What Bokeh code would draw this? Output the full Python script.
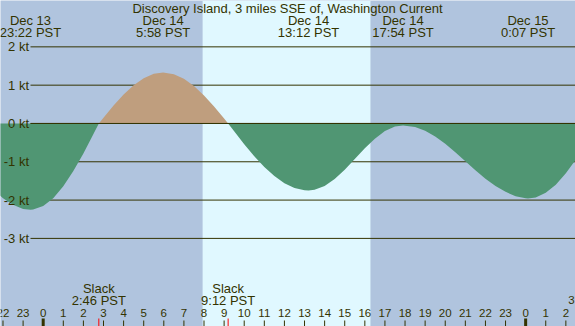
from bokeh.plotting import figure
from bokeh.models import Range1d
from bokeh.embed import file_html
from bokeh.resources import INLINE
from bokeh.core.properties import value
import numpy as np

# ---- data (hours relative to Dec 14 00:00 PST, current speed in knots) ----
hours = [-2.2, -2.0, -1.5, -1.0, -0.633, -0.5, 0, 0.5, 1, 1.5, 2, 2.5, 2.767,
         3, 3.5, 4, 4.5, 5, 5.5, 5.967, 6.5, 7, 7.5, 8, 8.5, 9, 9.2,
         9.5, 10, 10.5, 11, 11.5, 12, 12.5, 13, 13.2, 13.5, 14, 14.5, 15,
         15.5, 16, 16.5, 17, 17.5, 17.9, 18.5, 19, 19.5, 20, 20.5, 21, 21.5,
         22, 22.5, 23, 23.5, 24, 24.117, 24.5, 25, 25.5, 26, 26.5]
speed = [-1.86, -1.95, -2.12, -2.23, -2.25, -2.246, -2.154, -1.949, -1.639, -1.244, -0.782, -0.277, 0.0,
         0.152, 0.468, 0.757, 1.000, 1.183, 1.295, 1.33, 1.286, 1.166, 0.978, 0.733, 0.444, 0.129, 0.0,
         -0.206, -0.541, -0.855, -1.136, -1.374, -1.559, -1.684, -1.745, -1.75, -1.733, -1.631, -1.449, -1.206,
         -0.928, -0.648, -0.396, -0.199, -0.080, -0.05, -0.093, -0.192, -0.341, -0.531, -0.751, -0.986, -1.221,
         -1.441, -1.633, -1.785, -1.90, -1.955, -1.96, -1.93, -1.81, -1.60, -1.30, -0.94]

extreme_hours = [-0.633, 5.967, 13.2, 17.9, 24.117]
extreme_dates = ["Dec 13", "Dec 14", "Dec 14", "Dec 14", "Dec 15"]
extreme_times = ["23:22 PST", "5:58 PST", "13:12 PST", "17:54 PST", "0:07 PST"]

slack_hours = [2.767, 9.2]
slack_times = ["2:46 PST", "9:12 PST"]

sunrise, sunset = 7.93, 16.28

kt_levels = [2, 1, 0, -1, -2, -3]
kt_labels = ["2 kt", "1 kt", "0 kt", "-1 kt", "-2 kt", "-3 kt"]

tick_hours = list(range(-2, 27))
tick_labels = [str(h % 24) for h in tick_hours]

title = "Discovery Island, 3 miles SSE of, Washington Current"

# ---- layout / style ----
W, H = 575, 326
XMIN, XMAX = -2.124, 26.48
YMIN, YMAX = -5.30, 3.21
FONT = value("Liberation Sans")
FS = "13px"
FS_H = "11.5px"
TXT = "#333300"
NIGHT = "#b0c4de"
DAY = "#e0f8ff"
FLOOD = "#bf9e7e"
EBB = "#509673"


def xpx(px):
    return XMIN + px * (XMAX - XMIN) / W


def ypx(py):
    return YMAX - py * (YMAX - YMIN) / H


p = figure(width=W, height=H, x_range=Range1d(XMIN, XMAX), y_range=Range1d(YMIN, YMAX),
           output_backend="svg", toolbar_location=None, min_border=0,
           x_axis_location=None, y_axis_location=None,
           background_fill_color=NIGHT, border_fill_color=NIGHT)
p.grid.visible = False
p.outline_line_color = None

# daylight band
p.quad(left=[sunrise], right=[sunset], bottom=[YMIN], top=[YMAX], fill_color=DAY, line_color=None)

# grid lines
x_line0 = xpx(30)
p.segment(x0=[x_line0] * len(kt_levels), y0=kt_levels, x1=[XMAX] * len(kt_levels), y1=kt_levels,
          line_color=TXT, line_width=1)

# current fills
h = np.array(hours)
s = np.array(speed)
p.varea(x=h, y1=np.zeros_like(s), y2=np.maximum(s, 0), fill_color=FLOOD)
p.varea(x=h, y1=np.zeros_like(s), y2=np.minimum(s, 0), fill_color=EBB)

# zero line on top
p.segment(x0=[x_line0], y0=[0], x1=[XMAX], y1=[0], line_color=TXT, line_width=1)

# y labels
p.text(x=[xpx(28.5)] * len(kt_levels), y=kt_levels, text=kt_labels, text_font=FONT,
       text_font_size=FS, text_align="right", text_baseline="middle", text_color=TXT)

# title
p.text(x=[xpx(287)], y=[ypx(7.5)], text=[title], text_font=FONT, text_font_size=FS,
       text_align="center", text_baseline="middle", text_color=TXT)

# extreme labels
p.text(x=extreme_hours, y=[ypx(19.5)] * len(extreme_hours), text=extreme_dates, text_font=FONT,
       text_font_size=FS, text_align="center", text_baseline="middle", text_color=TXT)
p.text(x=extreme_hours, y=[ypx(32)] * len(extreme_hours), text=extreme_times, text_font=FONT,
       text_font_size=FS, text_align="center", text_baseline="middle", text_color=TXT)

# slack labels
p.text(x=slack_hours, y=[ypx(287.5)] * len(slack_hours), text=["Slack"] * len(slack_hours), text_font=FONT,
       text_font_size=FS, text_align="center", text_baseline="middle", text_color=TXT)
p.text(x=slack_hours, y=[ypx(299.5)] * len(slack_hours), text=slack_times, text_font=FONT,
       text_font_size=FS, text_align="center", text_baseline="middle", text_color=TXT)

# hour ticks
reg = [t for t in tick_hours if t % 24 != 0]
mid = [t for t in tick_hours if t % 24 == 0]
p.segment(x0=reg, y0=[ypx(320)] * len(reg), x1=reg, y1=[YMIN] * len(reg), line_color=TXT, line_width=1)
p.segment(x0=mid, y0=[ypx(318)] * len(mid), x1=mid, y1=[YMIN] * len(mid), line_color=TXT, line_width=3)
p.segment(x0=slack_hours, y0=[ypx(318)] * len(slack_hours), x1=slack_hours, y1=[YMIN] * len(slack_hours),
          line_color="red", line_width=1)
p.text(x=tick_hours, y=[ypx(312)] * len(tick_hours), text=tick_labels, text_font=FONT,
       text_font_size=FS_H, text_align="center", text_baseline="middle", text_color=TXT)
# wrapped final hour label
p.text(x=[xpx(571)], y=[ypx(299)], text=["3"], text_font=FONT,
       text_font_size=FS_H, text_align="center", text_baseline="middle", text_color=TXT)

open("out.html", "w").write(file_html(p, INLINE))
